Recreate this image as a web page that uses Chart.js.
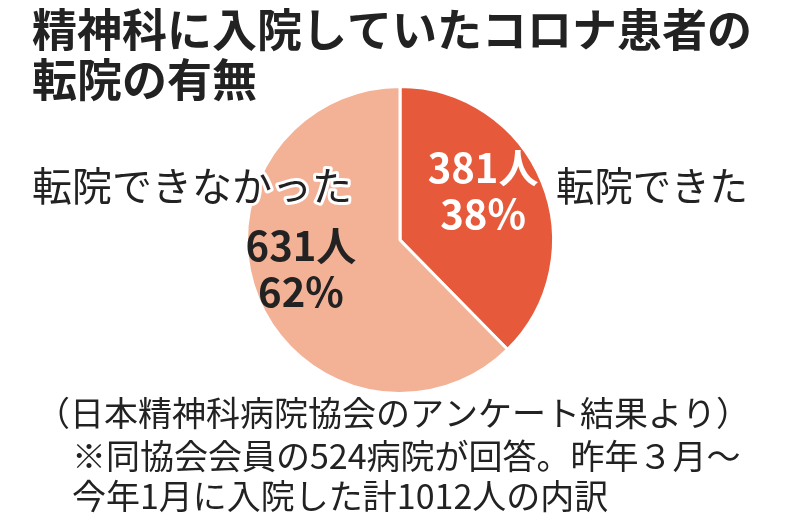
<!DOCTYPE html>
<html><head><meta charset="utf-8">
<script src="https://cdn.jsdelivr.net/npm/chart.js@4"></script>
<style>html,body{margin:0;padding:0;background:#fff;}canvas{display:block}</style>
</head><body>
<canvas id="c" width="800" height="525"></canvas>
<script>
const categories = ["転院できた", "転院できなかった"];
const values = [381, 631];
const percents = ["38%", "62%"];
const colors = ["#e65a3b", "#f3b296"];
const titleLines = ["精神科に入院していたコロナ患者の", "転院の有無"];
const footLines = ["（日本精神科病院協会のアンケート結果より）",
  "※同協会会員の524病院が回答。昨年３月〜",
  "今年1月に入院した計1012人の内訳"];
const F = '"Noto Sans CJK JP", sans-serif';
function fit(ctx, t, x, y, w) { ctx.fillText(t, x, y, w); }
const textPlugin = {
  id: 'txt',
  afterDraw(chart) {
    const ctx = chart.ctx;
    ctx.save();
    ctx.fillStyle = '#222';
    ctx.textBaseline = 'middle';
    ctx.textAlign = 'left';
    ctx.font = 'bold 45px ' + F;
    fit(ctx, titleLines[0], 32, 30, 740);
    fit(ctx, titleLines[1], 32, 80, 740);
    ctx.font = '40px ' + F;
    ctx.strokeStyle = '#fff'; ctx.lineWidth = 6; ctx.lineJoin = 'round';
    ctx.strokeText(categories[1], 32, 186, 340);
    fit(ctx, categories[1], 32, 186, 340);
    fit(ctx, categories[0], 556, 186, 192);
    ctx.font = '34px ' + F;
    fit(ctx, footLines[0], 36, 413, 736);
    fit(ctx, footLines[1], 72, 456, 694);
    fit(ctx, footLines[2], 72, 496, 610);
    const meta = chart.getDatasetMeta(0);
    const offs = [[12, -20], [-28, 0]];
    meta.data.forEach((arc, i) => {
      const p = arc.tooltipPosition();
      const x = p.x + offs[i][0], y = p.y + offs[i][1];
      ctx.fillStyle = i === 0 ? '#fff' : '#222';
      ctx.textAlign = 'center';
      ctx.font = 'bold 40px ' + F;
      ctx.fillText(values[i] + '人', x, y - 23);
      ctx.fillText(percents[i], x, y + 23);
    });
    ctx.restore();
  }
};
new Chart(document.getElementById('c'), {
  type: 'pie',
  data: { labels: categories, datasets: [{ data: values, backgroundColor: colors, borderColor: '#fff', borderWidth: 3 }] },
  options: {
    responsive: false, animation: false,
    layout: { padding: { top: 85, bottom: 130, left: 245, right: 245 } },
    plugins: { legend: { display: false }, tooltip: { enabled: false } }
  },
  plugins: [textPlugin]
});
</script>
</body></html>
